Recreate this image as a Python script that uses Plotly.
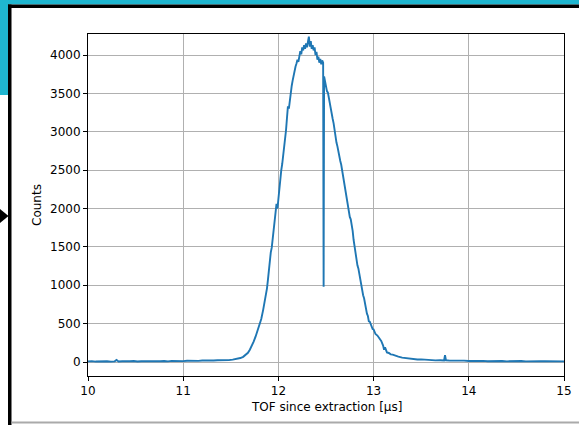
import plotly.graph_objects as go

# ---- data ----
tof_us = [
    10.00, 10.04, 10.08, 10.12, 10.16, 10.20, 10.24, 10.28, 10.30, 10.32,
    10.36, 10.40, 10.44, 10.48, 10.52, 10.56, 10.60, 10.64, 10.68, 10.72,
    10.76, 10.80, 10.84, 10.88, 10.92, 10.96, 11.00, 11.04, 11.08, 11.12,
    11.16, 11.20, 11.24, 11.28, 11.32, 11.36, 11.40, 11.44, 11.48, 11.52,
    11.56, 11.60, 11.63, 11.66, 11.68, 11.70, 11.72, 11.74, 11.76,
    11.78, 11.80, 11.82, 11.84, 11.86, 11.88, 11.89, 11.90, 11.91, 11.92,
    11.93, 11.94, 11.95, 11.96, 11.97, 11.98, 11.99, 12.00, 12.01, 12.02,
    12.03, 12.04, 12.05, 12.06, 12.07, 12.08, 12.09, 12.10, 12.11, 12.12,
    12.13, 12.14, 12.15, 12.16, 12.17, 12.18, 12.19, 12.20, 12.21, 12.22,
    12.23, 12.24, 12.25, 12.26, 12.27, 12.28, 12.29, 12.30, 12.31, 12.32,
    12.33, 12.34, 12.35, 12.36, 12.37, 12.38, 12.39, 12.40, 12.41, 12.42,
    12.43, 12.44, 12.45, 12.46, 12.47, 12.475, 12.48, 12.49, 12.50, 12.51,
    12.52, 12.53, 12.54, 12.55, 12.56, 12.57, 12.58, 12.59, 12.60, 12.61,
    12.62, 12.63, 12.64, 12.65, 12.66, 12.67, 12.68, 12.69, 12.70, 12.71,
    12.72, 12.73, 12.74, 12.75, 12.76, 12.77, 12.78, 12.79, 12.80, 12.81,
    12.82, 12.83, 12.84, 12.85, 12.86, 12.87, 12.88, 12.89, 12.90, 12.91,
    12.92, 12.93, 12.94, 12.95, 12.96, 12.97, 12.98, 12.99, 13.00, 13.02,
    13.04, 13.06, 13.08, 13.10, 13.11, 13.12, 13.14, 13.16, 13.18, 13.20,
    13.23, 13.26, 13.30, 13.34, 13.38, 13.42, 13.46, 13.50, 13.55, 13.60,
    13.65, 13.70, 13.74, 13.75, 13.76, 13.80, 13.85, 13.90, 13.95, 14.00,
    14.05, 14.10, 14.15, 14.20, 14.25, 14.30, 14.35, 14.40, 14.45, 14.50,
    14.55, 14.60, 14.65, 14.70, 14.75, 14.80, 14.85, 14.90, 14.95, 15.00,
]
counts = [
    8, 12, 6, 10, 7, 11, 5, 9, 28, 8,
    11, 6, 10, 13, 7, 11, 9, 14, 8, 12,
    10, 13, 9, 15, 11, 14, 12, 16, 13, 18,
    15, 19, 17, 22, 19, 24, 22, 27, 25, 32,
    38, 52, 68, 95, 120, 160, 205, 265, 330,
    400, 470, 560, 680, 800, 960, 1070, 1200, 1380, 1430,
    1490, 1600, 1720, 1850, 1940, 2060, 2000, 2150, 2300, 2380,
    2500, 2580, 2680, 2760, 2880, 3020, 3180, 3330, 3300, 3420,
    3520, 3600, 3670, 3740, 3800, 3850, 3890, 3940, 3910, 4000,
    4050, 4010, 4100, 4060, 4130, 4080, 4150, 4100, 4170, 4240,
    4110, 4180, 4080, 4130, 4060, 4100, 4000, 4040, 3940, 3980,
    3900, 3950, 3880, 3930, 3900, 980, 3720, 3640, 3610, 3530,
    3510, 3430, 3390, 3290, 3250, 3170, 3110, 3010, 2960, 2860,
    2810, 2730, 2690, 2620, 2570, 2490, 2430, 2340, 2290, 2190,
    2130, 2040, 1990, 1890, 1860, 1790, 1710, 1590, 1490, 1390,
    1340, 1260, 1220, 1140, 1090, 990, 960, 870, 830, 750,
    710, 630, 600, 530, 525, 490, 475, 430, 425, 365,
    345, 315, 275, 215, 160, 190, 125, 118, 100, 96,
    78, 70, 58, 52, 42, 40, 33, 34, 27, 29,
    22, 24, 19, 90, 23, 18, 21, 15, 18, 13,
    16, 12, 15, 11, 14, 10, 13, 9, 12, 10,
    13, 9, 12, 8, 11, 10, 12, 8, 11, 9,
]
x_ticks = [10, 11, 12, 13, 14, 15]
y_ticks = [0, 500, 1000, 1500, 2000, 2500, 3000, 3500, 4000]

W, H = 579, 425
L, R, T, B = 88, 564, 34, 376


def px(xp):
    return (xp - L) / (R - L)


def py(yp):
    return (B - yp) / (B - T)


FONT = dict(family="DejaVu Sans", size=12, color="#000000")

fig = go.Figure()
fig.add_trace(go.Scatter(
    x=tof_us, y=counts, mode="lines",
    line=dict(color="#1f77b4", width=1.9),
    showlegend=False, hoverinfo="skip",
))

cyan = "#1fb6d0"
shapes = []


def rect(x0, y0, x1, y1, color):
    shapes.append(dict(type="rect", xref="paper", yref="paper",
                       x0=px(x0), x1=px(x1), y0=py(y0), y1=py(y1),
                       fillcolor=color, line=dict(width=0), layer="below"))


rect(0, 0, W, 4.5, cyan)
rect(0, 0, 9, 95, cyan)
rect(8, 4.5, W, 8, "#000000")
rect(8, 4.5, 11.5, H, "#000000")
rect(11.5, 421.5, W, 423.5, "#aaaaaa")
shapes.append(dict(type="path", xref="paper", yref="paper",
                   path=f"M {px(0)},{py(209)} L {px(8.5)},{py(216)} L {px(0)},{py(223)} Z",
                   fillcolor="#000000", line=dict(width=0), layer="below"))

axis_common = dict(
    showline=True, linecolor="#000000", linewidth=1, mirror=True,
    ticks="outside", ticklen=4, tickwidth=1, tickcolor="#000000",
    showgrid=True, gridcolor="#b0b0b0", gridwidth=1,
    zeroline=False, tickfont=FONT, automargin=False,
)

fig.update_layout(
    width=W, height=H,
    margin=dict(l=L, r=W - R, t=T, b=H - B, autoexpand=False),
    paper_bgcolor="#ffffff", plot_bgcolor="#ffffff",
    shapes=shapes,
    xaxis=dict(range=[10, 15], tickvals=x_ticks, ticktext=[str(v) for v in x_ticks], **axis_common),
    yaxis=dict(range=[-182, 4274], tickvals=y_ticks, ticktext=[str(v) for v in y_ticks],
               ticklabelstandoff=0, **axis_common),
    annotations=[
        dict(text="Counts", xref="paper", yref="paper", x=px(37), y=py(205),
             textangle=-90, showarrow=False, font=FONT, xanchor="center", yanchor="middle"),
        dict(text="TOF since extraction [µs]", xref="paper", yref="paper", x=px(326), y=py(407),
             showarrow=False, font=FONT, xanchor="center", yanchor="middle"),
    ],
)

fig.write_html("out.html")
